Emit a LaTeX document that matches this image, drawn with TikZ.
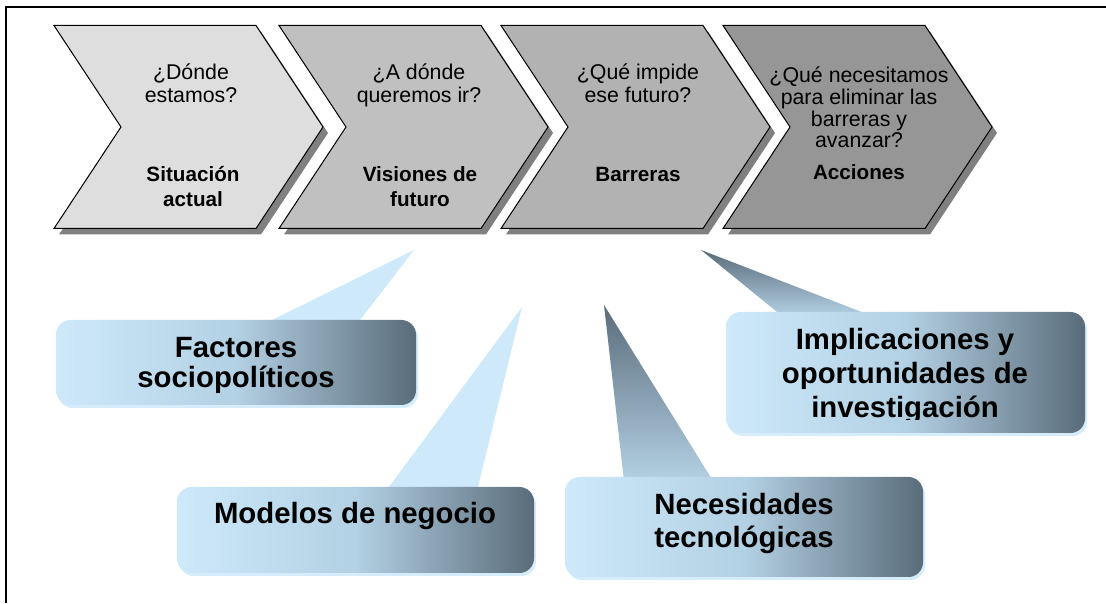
\documentclass[tikz,border=0pt]{standalone}
\usepackage{fontspec}
\setmainfont{Liberation Sans}
\definecolor{stepone}{HTML}{DEDEDE}
\definecolor{steptwo}{HTML}{C0C0C0}
\definecolor{stepthree}{HTML}{B2B2B2}
\definecolor{stepfour}{HTML}{969696}
\definecolor{shadowgray}{HTML}{808080}
\definecolor{calLight}{HTML}{CDE9FA}
\definecolor{calMid}{HTML}{B3D1E4}
\definecolor{calDark}{HTML}{5A6C7A}
\definecolor{calRim}{HTML}{D5ECFA}

\begin{document}
\begin{tikzpicture}[x=0.75pt, y=0.75pt,
  chevron/.style={draw=black, line width=0.75pt, line join=miter},
  chevshade/.style={fill=shadowgray},
  askq/.style={align=center, inner sep=0pt, anchor=base, font=\fontsize{16}{17.25}\selectfont},
  stage/.style={align=center, inner sep=0pt, anchor=base, font=\fontsize{15.5}{18.75}\selectfont\bfseries},
  calbox/.style={left color=calLight, right color=calDark, middle color=calMid, rounded corners=11pt},
  calglow/.style={fill=calRim, rounded corners=11pt},
  tipdark/.style={top color=calDark, bottom color=calMid},
  tiplight/.style={top color=calLight, bottom color=calLight},
  caltext/.style={align=center, inner sep=0pt, anchor=base, font=\fontsize{22}{25.5}\selectfont\bfseries}]
\useasboundingbox (0,0) rectangle (1106,603);
\draw[line width=1.5pt] (1106,596) -- (6,596) -- (6,0);

% shadows of the four steps
\fill[chevshade] (59,571.5) -- ++(202,0) -- ++(67,-101.5) -- ++(-67,-101.5) -- ++(-202,0) -- ++(67,101.5) -- cycle;
\fill[chevshade] (284,571.5) -- ++(202,0) -- ++(67,-101.5) -- ++(-67,-101.5) -- ++(-202,0) -- ++(67,101.5) -- cycle;
\fill[chevshade] (506,571.5) -- ++(202,0) -- ++(67,-101.5) -- ++(-67,-101.5) -- ++(-202,0) -- ++(67,101.5) -- cycle;
\fill[chevshade] (728,571.5) -- ++(202,0) -- ++(67,-101.5) -- ++(-67,-101.5) -- ++(-202,0) -- ++(67,101.5) -- cycle;

% the four steps
\draw[chevron, fill=stepone] (54,577.5) -- ++(202,0) -- ++(67,-101.5) -- ++(-67,-101.5) -- ++(-202,0) -- ++(67,101.5) -- cycle;
\draw[chevron, fill=steptwo] (279,577.5) -- ++(202,0) -- ++(67,-101.5) -- ++(-67,-101.5) -- ++(-202,0) -- ++(67,101.5) -- cycle;
\draw[chevron, fill=stepthree] (501,577.5) -- ++(202,0) -- ++(67,-101.5) -- ++(-67,-101.5) -- ++(-202,0) -- ++(67,101.5) -- cycle;
\draw[chevron, fill=stepfour] (723,577.5) -- ++(202,0) -- ++(67,-101.5) -- ++(-67,-101.5) -- ++(-202,0) -- ++(67,101.5) -- cycle;

\node[askq] (q1) at (191,500) {¿Dónde\\estamos?};
\node[stage] (s1) at (193,396) {Situación\\actual};
\node[askq] (q2) at (419,500) {¿A dónde\\queremos ir?};
\node[stage] (s2) at (420,396) {Visiones de\\futuro};
\node[askq] (q3) at (638,500) {¿Qué impide\\ese futuro?};
\node[stage] (s3) at (638,421) {Barreras};
\node[askq, font=\fontsize{16}{16.3}\selectfont] (q4) at (859,455) {¿Qué necesitamos\\para eliminar las\\barreras y\\avanzar?};
\node[stage] (s4) at (859,423) {Acciones};

% callouts
\shade[tiplight] (264,279) -- (414,353) -- (357,279) -- cycle;
\fill[calglow] (58,195) rectangle (418,280);
\shade[calbox] (56,198) rectangle (416,283);
\node[caltext, font=\fontsize{22}{22.5}\selectfont\bfseries] (fac) at (236,215) {Factores\\sociopolíticos};

\shade[tiplight] (386,112) -- (522,296) -- (477,112) -- cycle;
\fill[calglow] (179,27) rectangle (536,113);
\shade[calbox] (177,30) rectangle (534,116);
\node[caltext] (mod) at (355,79) {Modelos de negocio};

\shade[tipdark] (782,287) -- (701,353) -- (872,287) -- cycle;
\fill[calglow] (728,167) rectangle (1087,288);
\shade[calbox] (726,170) rectangle (1085,291);
\begin{scope}
\clip (726,183.5) rectangle (1085,300);
\node[caltext] (imp) at (905,185) {Implicaciones y\\oportunidades de\\investigación};
\end{scope}

\shade[tipdark] (624,122) -- (604,298) -- (713,122) -- cycle;
\fill[calglow] (567,23) rectangle (925,123);
\shade[calbox] (565,26) rectangle (923,126);
\node[caltext] (nec) at (744,55) {Necesidades\\tecnológicas};
\end{tikzpicture}
\end{document}
